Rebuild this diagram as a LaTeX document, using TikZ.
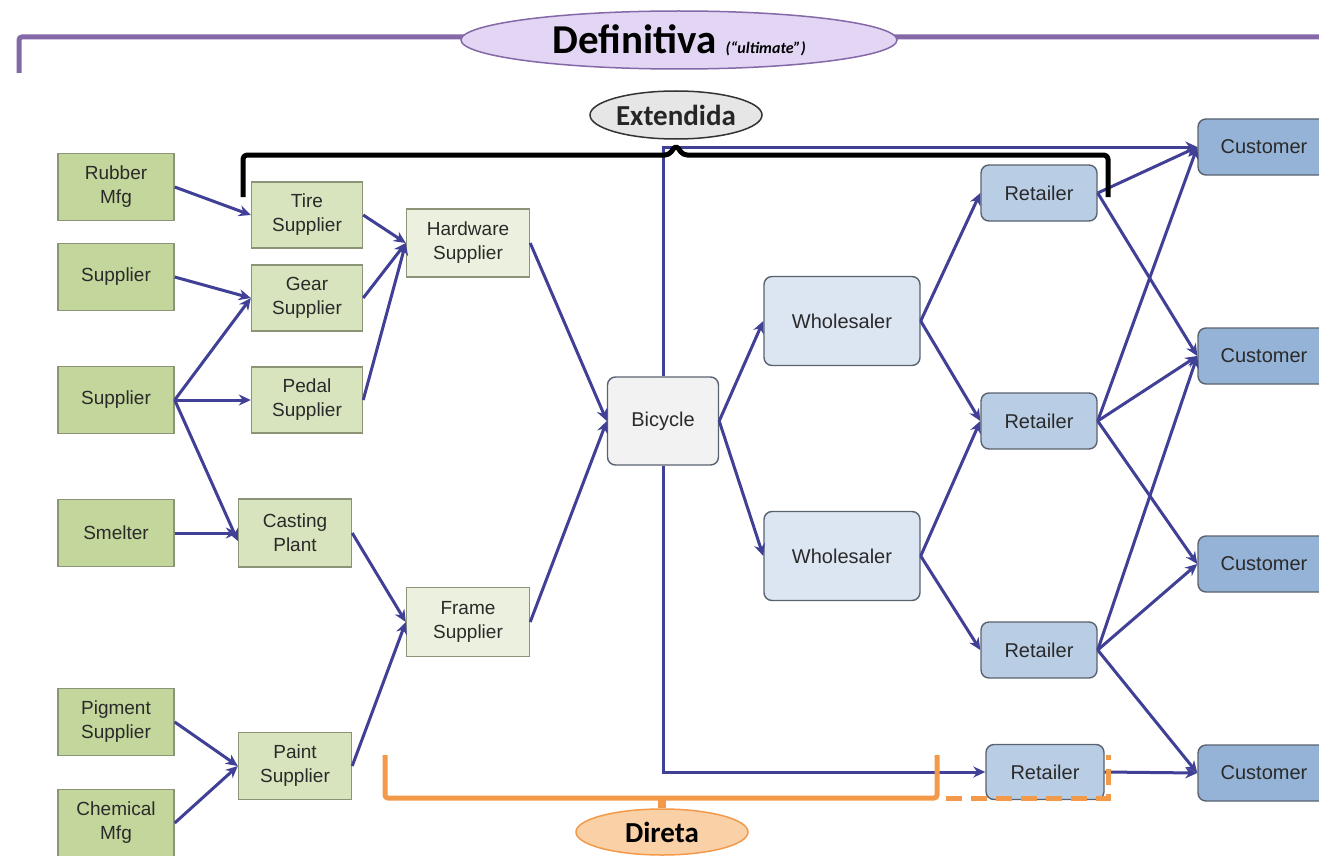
\documentclass[tikz,border=0pt]{standalone}
\usepackage{fontspec}
\setmainfont{Liberation Sans}
\newfontfamily\calib{Carlito}
\usetikzlibrary{arrows.meta,shapes.geometric}
\definecolor{gdark}{HTML}{C3D69B}
\definecolor{gmid}{HTML}{D7E4BD}
\definecolor{glight}{HTML}{EBF1DE}
\definecolor{gborder}{HTML}{8C9478}
\definecolor{bicfill}{HTML}{F2F2F2}
\definecolor{whofill}{HTML}{DCE6F2}
\definecolor{retfill}{HTML}{B9CDE5}
\definecolor{cusfill}{HTML}{95B3D7}
\definecolor{bborder}{HTML}{5A6270}
\definecolor{arrc}{HTML}{404096}
\definecolor{txtc}{HTML}{2A2A2A}
\definecolor{purp}{HTML}{8468A8}
\definecolor{purpfill}{HTML}{E2D6F4}
\definecolor{orng}{HTML}{F29A4A}
\definecolor{orngfill}{HTML}{FAD0A6}
\definecolor{grayfill}{HTML}{E6E6E6}
\tikzset{
  box/.style={draw=gborder, line width=1.4pt, align=center, text=txtc,
    font=\fontsize{19}{24}\selectfont, inner sep=0pt},
  g1/.style={box, fill=gdark, minimum width=116pt, minimum height=67pt},
  g2/.style={box, fill=gmid, minimum width=111pt, minimum height=66pt},
  g3/.style={box, fill=glight, minimum width=123pt, minimum height=68pt},
  rbox/.style={box, draw=bborder, rounded corners=8pt, font=\fontsize{20}{24}\selectfont},
  bicy/.style={rbox, fill=bicfill, minimum width=111pt, minimum height=88pt},
  who/.style={rbox, fill=whofill, minimum width=156pt, minimum height=89pt},
  ret/.style={rbox, fill=retfill, minimum width=116pt, minimum height=56pt},
  cus/.style={rbox, fill=cusfill, minimum width=132pt, minimum height=56pt},
  arr/.style={draw=arrc, line width=3pt, -{Stealth[length=12pt,width=11pt]}},
  bigell/.style={ellipse, inner sep=0pt, line width=1.5pt}
}
\begin{document}
\begin{tikzpicture}[x=1pt,y=-1pt]
\useasboundingbox[fill=white] (0,0) rectangle (1319,856);
% purple bracket
\draw[purp, line width=5pt, rounded corners=3pt] (19,73) -- (19,37) -- (1335,37);
\node[bigell, draw=purp, fill=purpfill, minimum width=436pt, minimum height=58pt] (def) at (679,40)
  {\calib\bfseries\fontsize{41}{44}\selectfont Definitiva \fontsize{16}{18}\selectfont\itshape (“ultimate”)};
% column 1
\node[g1] (rub) at (116,187) {Rubber\\Mfg};
\node[g1] (sup1) at (116,277) {Supplier};
\node[g1] (sup2) at (116,400) {Supplier};
\node[g1] (sme) at (116,533) {Smelter};
\node[g1] (pig) at (116,722) {Pigment\\Supplier};
\node[g1] (che) at (116,823) {Chemical\\Mfg};
% column 2
\node[g2] (tire) at (307,215) {Tire\\Supplier};
\node[g2] (gear) at (307,298) {Gear\\Supplier};
\node[g2] (pedal) at (307,400) {Pedal\\Supplier};
\node[g2, minimum width=113pt, minimum height=68pt] (cast) at (295,533) {Casting\\Plant};
\node[g2, minimum width=113pt, minimum height=67pt] (paint) at (295,766) {Paint\\Supplier};
% column 3
\node[g3] (hard) at (468,243) {Hardware\\Supplier};
\node[g3, minimum height=69pt] (frame) at (468,622) {Frame\\Supplier};
% center
\node[bicy] (bic) at (663,421) {Bicycle};
\node[who] (who1) at (842,321) {Wholesaler};
\node[who] (who2) at (842,556) {Wholesaler};
\node[ret] (ret1) at (1039,193) {Retailer};
\node[ret] (ret2) at (1039,421) {Retailer};
\node[ret] (ret3) at (1039,650) {Retailer};
\node[ret, minimum width=118pt, minimum height=55pt] (ret4) at (1045,772) {Retailer};
\node[cus] (cus1) at (1264,147) {Customer};
\node[cus] (cus2) at (1264,356) {Customer};
\node[cus] (cus3) at (1264,564) {Customer};
\node[cus] (cus4) at (1264,773) {Customer};
% connectors
\draw[arr] (rub.east) -- (tire.west);
\draw[arr] (sup1.east) -- (gear.west);
\draw[arr] (sup2.east) -- (gear.west);
\draw[arr] (sup2.east) -- (pedal.west);
\draw[arr] (sup2.east) -- ([yshift=-8pt]cast.west);
\draw[arr] (sme.east) -- (cast.west);
\draw[arr] (pig.east) -- (paint.west);
\draw[arr] (che.east) -- (paint.west);
\draw[arr] (tire.east) -- (hard.west);
\draw[arr] (gear.east) -- (hard.west);
\draw[arr] (pedal.east) -- (hard.west);
\draw[arr] (cast.east) -- (frame.west);
\draw[arr] (paint.east) -- (frame.west);
\draw[arr] (hard.east) -- (bic.west);
\draw[arr] (frame.east) -- (bic.west);
\draw[arr] (bic.east) -- (who1.west);
\draw[arr] (bic.east) -- (who2.west);
\draw[arr] (who1.east) -- (ret1.west);
\draw[arr] (who1.east) -- (ret2.west);
\draw[arr] (who2.east) -- (ret2.west);
\draw[arr] (who2.east) -- (ret3.west);
\draw[arr] (ret1.east) -- (cus1.west);
\draw[arr] (ret1.east) -- (cus2.west);
\draw[arr] (ret2.east) -- (cus1.west);
\draw[arr] (ret2.east) -- (cus2.west);
\draw[arr] (ret2.east) -- (cus3.west);
\draw[arr] (ret3.east) -- (cus2.west);
\draw[arr] (ret3.east) -- (cus3.west);
\draw[arr] (ret3.east) -- (cus4.west);
\draw[arr] (ret4.east) -- (cus4.west);
\coordinate (tb) at (663,147);
\coordinate (bb) at (663,772);
\draw[arr] (bic.north) -- (tb) -- (cus1.west);
\draw[arr] (bic.south) -- (bb) -- (ret4.west);
% black bracket (Extendida)
\draw[black, line width=5pt, rounded corners=4pt, line join=round]
  (243,197) -- (243,155) -- (669,155) -- (676,145) -- (683,155) -- (1108,155) -- (1108,197);
\node[bigell, draw=black!80, fill=grayfill, minimum width=172pt, minimum height=48pt] (ext) at (676,115)
  {\calib\bfseries\fontsize{29}{32}\selectfont\color{black!85}Extendida};
% orange bracket (Direta)
\draw[orng, line width=5pt, rounded corners=3pt] (385,755) -- (385,798) -- (937,798) -- (937,755);
\draw[orng, line width=5pt, dash pattern=on 16pt off 9pt] (946,798) -- (1108,798) -- (1108,755);
\node[bigell, draw=orng, fill=orngfill, minimum width=172pt, minimum height=46pt] (dir) at (662,832)
  {\calib\bfseries\fontsize{29}{32}\selectfont Direta};
\draw[orng, line width=8pt] (662,798) -- (dir.north);
\end{tikzpicture}
\end{document}
